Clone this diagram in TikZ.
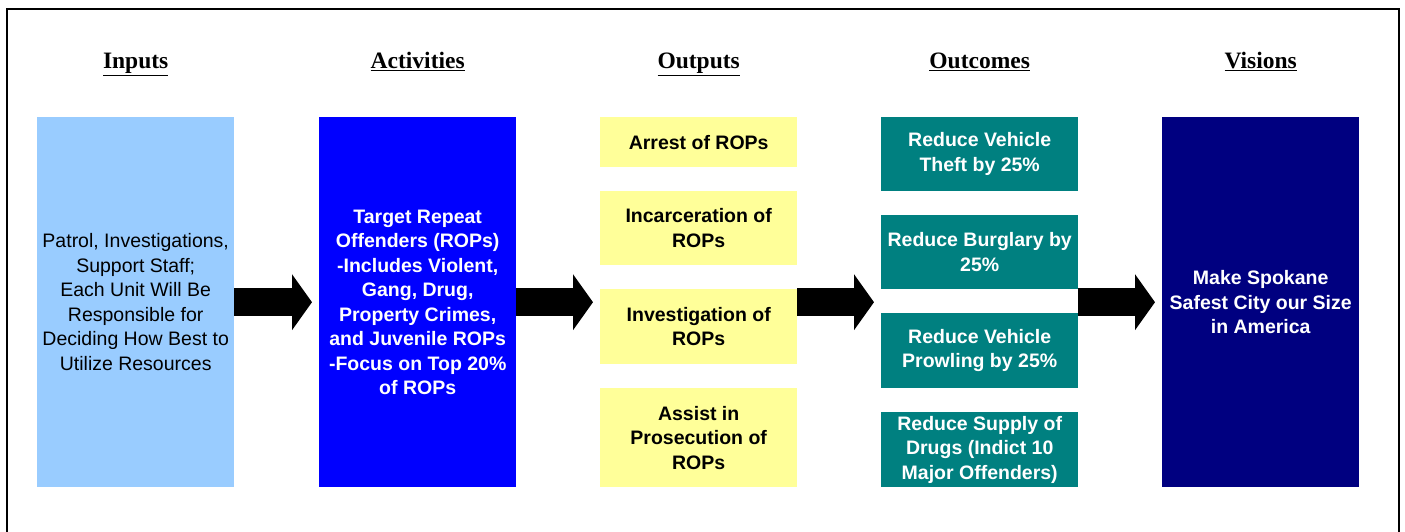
\documentclass[tikz,border=0pt]{standalone}
\usepackage{fontspec}
\setmainfont{Liberation Serif}
\setsansfont{Liberation Sans}
\usetikzlibrary{positioning,arrows.meta}

\definecolor{inblue}{RGB}{153,204,255}
\definecolor{actblue}{RGB}{0,0,255}
\definecolor{outyellow}{RGB}{255,255,153}
\definecolor{outteal}{RGB}{0,128,128}
\definecolor{visnavy}{RGB}{0,0,128}

\begin{document}
\begin{tikzpicture}[x=1pt,y=-1pt,
  box/.style={anchor=north west,minimum width=197pt,inner sep=0pt,align=center,
    font=\sffamily\fontsize{19.5}{24.5}\selectfont},
  darkbox/.style={box,text=white,font=\sffamily\bfseries\fontsize{19.5}{24.5}\selectfont},
  litebox/.style={box,font=\sffamily\bfseries\fontsize{19.5}{24.5}\selectfont},
  hdr/.style={inner sep=0pt,text height=17pt,text depth=6pt,
    font=\bfseries\fontsize{23.5}{26}\selectfont},
  bigarrow/.style={line width=28pt,-{Triangle[length=20pt,width=55pt]},shorten >=7pt}]

\useasboundingbox (0,0) rectangle (1405,531);
\draw[line width=2.5pt] (7,9) rectangle (1399,560);

% columns
\node[box,fill=inblue,minimum height=370pt] (inp) at (37,117)
  {Patrol, Investigations,\\Support Staff;\\Each Unit Will Be\\Responsible for\\Deciding How Best to\\Utilize Resources};
\node[darkbox,fill=actblue,minimum height=370pt] (act) at (319,117)
  {Target Repeat\\Offenders (ROPs)\\-Includes Violent,\\Gang, Drug,\\Property Crimes,\\and Juvenile ROPs\\-Focus on Top 20\%\\of ROPs};

\node[litebox,fill=outyellow,minimum height=50pt] (arrest) at (600,117) {Arrest of ROPs};
\node[litebox,fill=outyellow,minimum height=74pt] (incar) at (600,191) {Incarceration of\\ROPs};
\node[litebox,fill=outyellow,minimum height=75pt] (invest) at (600,289) {Investigation of\\ROPs};
\node[litebox,fill=outyellow,minimum height=99pt] (assist) at (600,388) {Assist in\\Prosecution of\\ROPs};

\node[darkbox,fill=outteal,minimum height=74pt] (theft) at (881,117) {Reduce Vehicle\\Theft by 25\%};
\node[darkbox,fill=outteal,minimum height=74pt] (burg) at (881,215) {Reduce Burglary by\\25\%};
\node[darkbox,fill=outteal,minimum height=75pt] (prowl) at (881,313) {Reduce Vehicle\\Prowling by 25\%};
\node[darkbox,fill=outteal,minimum height=75pt] (drugs) at (881,412) {Reduce Supply of\\Drugs (Indict 10\\Major Offenders)};

\node[darkbox,fill=visnavy,minimum height=370pt] (vis) at (1162,117)
  {Make Spokane\\Safest City our Size\\in America};

% headings
\node[hdr,above=42pt of inp] (hIn) {\underline{Inputs}};
\node[hdr,above=42pt of act] (hAct) {\underline{Activities}};
\node[hdr,above=42pt of arrest] (hOut) {\underline{Outputs}};
\node[hdr,above=42pt of theft] (hOc) {\underline{Outcomes}};
\node[hdr,above=42pt of vis] (hVis) {\underline{Visions}};

% arrows
\draw[bigarrow] (inp.east) -- (act.west);
\draw[bigarrow] (act.east) -- (act.east -| invest.west);
\draw[bigarrow] (act.east -| invest.east) -- (act.east -| burg.west);
\draw[bigarrow] (act.east -| burg.east) -- (vis.west);

\end{tikzpicture}
\end{document}
